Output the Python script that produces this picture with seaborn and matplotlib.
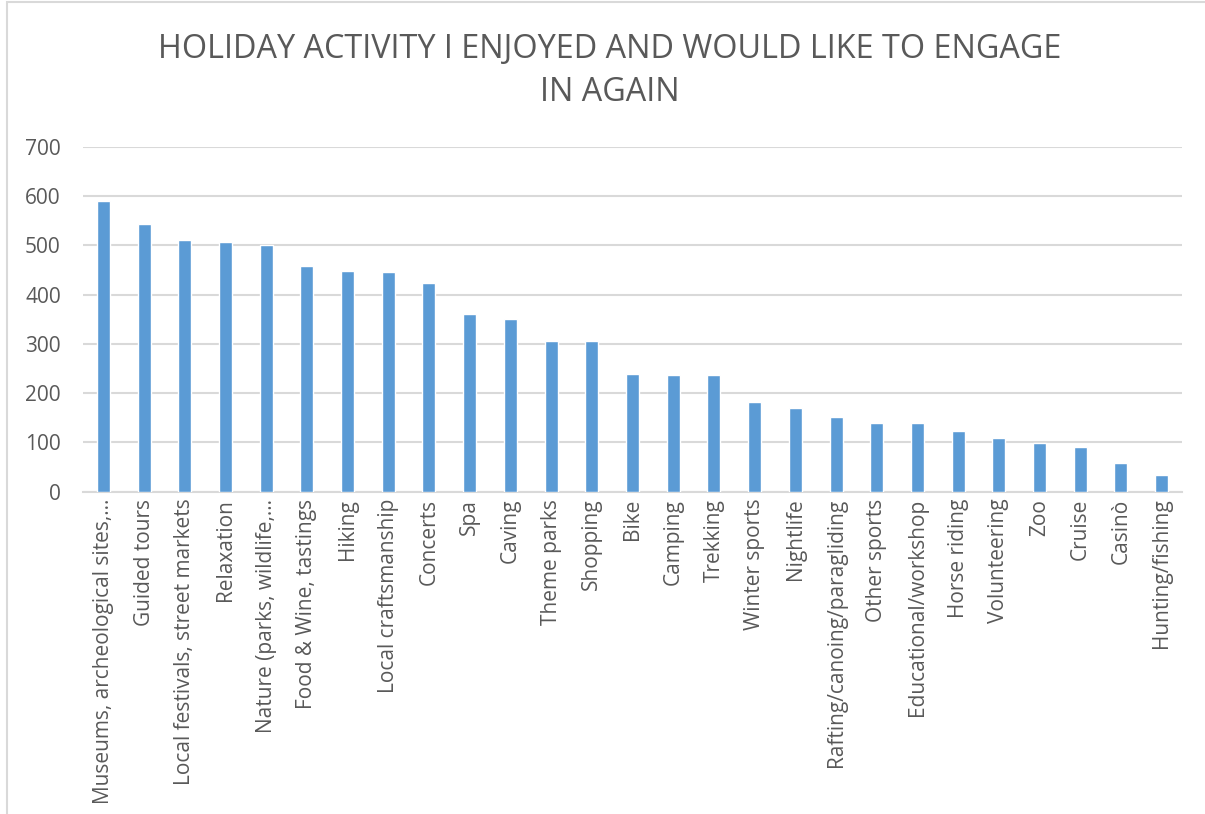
import matplotlib
matplotlib.use("Agg")
import matplotlib.pyplot as plt
import seaborn as sns
import pandas as pd
from matplotlib.patches import Rectangle

activities = [
    "Museums, archeological sites,…", "Guided tours", "Local festivals, street markets",
    "Relaxation", "Nature (parks, wildlife,…", "Food & Wine, tastings", "Hiking",
    "Local craftsmanship", "Concerts", "Spa", "Caving", "Theme parks", "Shopping",
    "Bike", "Camping", "Trekking", "Winter sports", "Nightlife",
    "Rafting/canoing/paragliding", "Other sports", "Educational/workshop",
    "Horse riding", "Volunteering", "Zoo", "Cruise", "Casinò", "Hunting/fishing",
]
counts = [590, 543, 511, 506, 500, 458, 448, 446, 424, 360, 350, 306, 305,
          239, 237, 237, 183, 170, 151, 139, 139, 124, 109, 99, 91, 59, 34]
y_ticks = [0, 100, 200, 300, 400, 500, 600, 700]
title = "HOLIDAY ACTIVITY I ENJOYED AND WOULD LIKE TO ENGAGE\nIN AGAIN"

df = pd.DataFrame({"activity": activities, "count": counts})

sns.set_style("white")
plt.rcParams["font.family"] = ["Open Sans", "DejaVu Sans"]

W, H = 1205, 814
fig = plt.figure(figsize=(W / 100, H / 100), dpi=100)
ax = fig.add_axes([83 / W, 1 - 491.7 / H, (1182 - 83) / W, (491.7 - 146.7) / H])

sns.barplot(data=df, x="activity", y="count", color="#5B9BD5", width=0.32,
            saturation=1, ax=ax, zorder=3)

ax.set_ylim(0, 700)
ax.set_xlim(-0.5, len(activities) - 0.5)
ax.set_yticks(y_ticks)
ax.yaxis.grid(True, color="#D9D9D9", linewidth=1.5, zorder=0)
ax.set_axisbelow(True)
for s in ["top", "right", "left"]:
    ax.spines[s].set_visible(False)
ax.spines["bottom"].set_color("#D9D9D9")
ax.spines["bottom"].set_linewidth(1.5)
ax.tick_params(axis="both", length=0, colors="#595959", labelsize=15)
ax.tick_params(axis="y", pad=16)
ax.tick_params(axis="x", pad=5)
ax.set_xticks(range(len(activities)))
ax.set_xticklabels(activities, rotation=90, ha="center", va="top")
ax.set_xlabel("")
ax.set_ylabel("")

fig.text(0.506, 1 - 71 / H, title, ha="center", va="center", fontsize=23.3,
         color="#595959", linespacing=1.4)

fig.patches.append(Rectangle((7 / W, -0.1), 1.2, 1 - 2 / H + 0.1, transform=fig.transFigure,
                             fill=False, edgecolor="#D9D9D9", linewidth=1.5))

fig.savefig("out.png", dpi=100)
